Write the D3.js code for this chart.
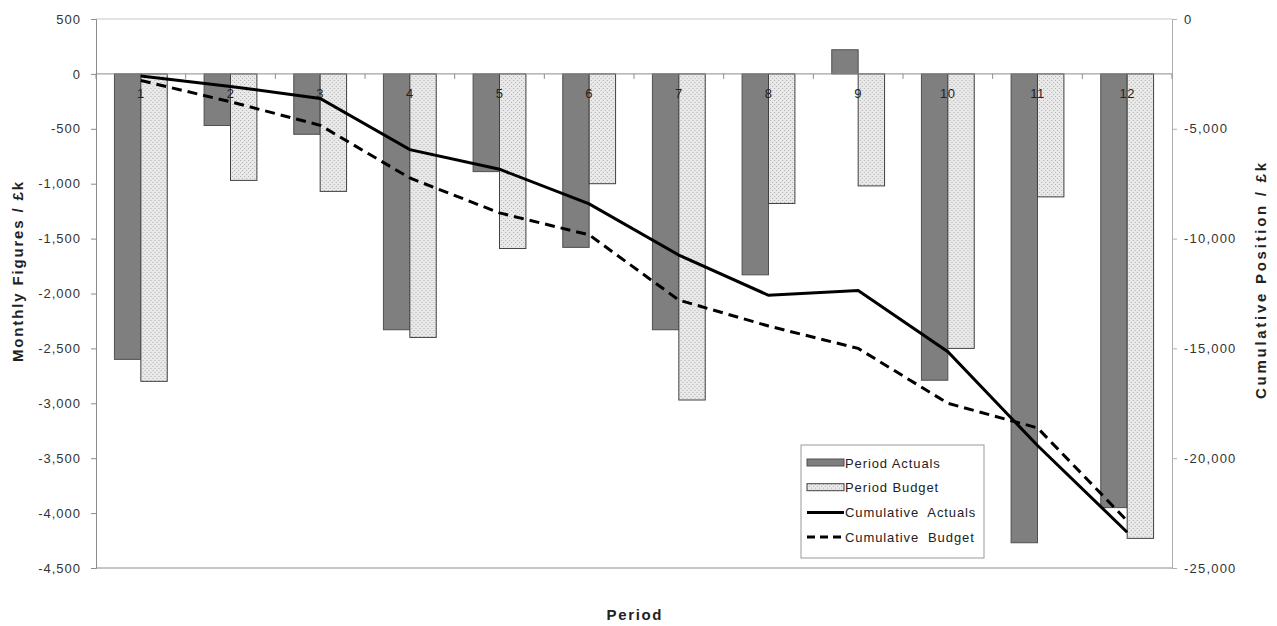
<!DOCTYPE html>
<html>
<head>
<meta charset="utf-8">
<script src="https://cdn.jsdelivr.net/npm/d3@7/dist/d3.min.js"></script>
<style>
  html, body { margin: 0; padding: 0; background: #fff; }
  svg { display: block; font-family: "Liberation Sans", Arial, sans-serif; }
</style>
</head>
<body>
<svg id="chart" width="1277" height="626"></svg>
<script>
// Periods 1..12
const periods = ["1", "2", "3", "4", "5", "6", "7", "8", "9", "10", "11", "12"];
// Monthly figures, £k
const periodActuals = [-2600, -470, -550, -2330, -890, -1580, -2330, -1830, 220, -2790, -4270, -3950];
const periodBudget  = [-2800, -970, -1070, -2400, -1590, -1000, -2970, -1180, -1020, -2500, -1120, -4230];
// Cumulative position, £k
const cumulativeActuals = [-2600, -3070, -3620, -5950, -6840, -8420, -10750, -12580, -12360, -15150, -19420, -23370];
const cumulativeBudget  = [-2800, -3770, -4840, -7240, -8830, -9830, -12800, -13980, -15000, -17500, -18620, -22850];
// Axis ticks
const leftTicks  = [500, 0, -500, -1000, -1500, -2000, -2500, -3000, -3500, -4000, -4500];
const rightTicks = [0, -5000, -10000, -15000, -20000, -25000];

const svg = d3.select("#chart");
const plot = { left: 96, right: 1172, top: 19, bottom: 568 };

const x = d3.scaleBand().domain(periods)
  .range([plot.left, plot.right])
  .paddingInner(0.411).paddingOuter(0.2055);
const xSeries = d3.scaleBand().domain(["actual", "budget"]).range([0, x.bandwidth()]);
const yLeft = d3.scaleLinear().domain([-4500, 500]).range([plot.bottom, plot.top]);
const yRight = d3.scaleLinear().domain([-25000, 0]).range([plot.bottom, plot.top]);

// Thousands separator with a plain hyphen for negatives
const fmt = d => d3.format(",")(d).replace("\u2212", "-");

// Dotted fill for budget bars
const defs = svg.append("defs");
const pat = defs.append("pattern").attr("id", "dots")
  .attr("width", 4).attr("height", 4).attr("patternUnits", "userSpaceOnUse");
pat.append("rect").attr("width", 4).attr("height", 4).attr("fill", "#e9e9e9");
pat.append("rect").attr("x", 0).attr("y", 0).attr("width", 1).attr("height", 1).attr("fill", "#b0b0b0");
pat.append("rect").attr("x", 2).attr("y", 2).attr("width", 1).attr("height", 1).attr("fill", "#b0b0b0");

const axisColor = "#8c8c8c";
const textColor = "#333";

// Plot frame: top edge and bottom edge
svg.append("line").attr("x1", plot.left).attr("x2", plot.right)
  .attr("y1", plot.top).attr("y2", plot.top).attr("stroke", "#c8c8c8");
svg.append("line").attr("x1", plot.left).attr("x2", plot.right)
  .attr("y1", plot.bottom).attr("y2", plot.bottom).attr("stroke", axisColor);

// Left axis
const gLeft = svg.append("g").attr("transform", `translate(${plot.left},0)`)
  .call(d3.axisLeft(yLeft).tickValues(leftTicks).tickSize(5).tickPadding(10)
    .tickFormat(fmt));
gLeft.select(".domain").attr("stroke", axisColor);
gLeft.selectAll(".tick line").attr("stroke", axisColor);
gLeft.selectAll(".tick text").attr("fill", textColor).attr("font-size", 13)
  .attr("letter-spacing", 1)
  .attr("font-family", "'Liberation Sans', Arial, sans-serif");

// Right axis
const gRight = svg.append("g").attr("transform", `translate(${plot.right},0)`)
  .call(d3.axisRight(yRight).tickValues(rightTicks).tickSize(5).tickPadding(7)
    .tickFormat(fmt));
gRight.select(".domain").attr("stroke", "#b0b0b0");
gRight.selectAll(".tick line").attr("stroke", "#b0b0b0");
gRight.selectAll(".tick text").attr("fill", textColor).attr("font-size", 13)
  .attr("letter-spacing", 1.2)
  .attr("font-family", "'Liberation Sans', Arial, sans-serif");

// Bars
const groups = svg.append("g").selectAll("g").data(periods).join("g")
  .attr("transform", d => `translate(${x(d)},0)`);

groups.append("rect")
  .attr("x", xSeries("actual"))
  .attr("width", xSeries.bandwidth())
  .attr("y", (d, i) => yLeft(Math.max(0, periodActuals[i])))
  .attr("height", (d, i) => Math.abs(yLeft(periodActuals[i]) - yLeft(0)))
  .attr("fill", "#7f7f7f").attr("stroke", "#505050").attr("stroke-width", 1);

groups.append("rect")
  .attr("x", xSeries("budget"))
  .attr("width", xSeries.bandwidth())
  .attr("y", (d, i) => yLeft(Math.max(0, periodBudget[i])))
  .attr("height", (d, i) => Math.abs(yLeft(periodBudget[i]) - yLeft(0)))
  .attr("fill", "url(#dots)").attr("stroke", "#404040").attr("stroke-width", 1);

// Category axis along zero line
const gCat = svg.append("g").attr("transform", `translate(0,${yLeft(0)})`);
gCat.append("line").attr("x1", plot.left).attr("x2", plot.right)
  .attr("stroke", axisColor);
const step = x.step();
const boundaries = d3.range(periods.length + 1).map(i => plot.left + i * step);
gCat.selectAll("line.tk").data(boundaries).join("line").attr("class", "tk")
  .attr("x1", d => d).attr("x2", d => d).attr("y1", 0).attr("y2", 5)
  .attr("stroke", axisColor);
gCat.selectAll("text").data(periods).join("text")
  .attr("x", d => x(d) + x.bandwidth() / 2)
  .attr("y", 24)
  .attr("text-anchor", "middle")
  .attr("font-size", 13).attr("letter-spacing", 0.5).attr("fill", "#222")
  .text(d => d);

// Cumulative lines on the right-hand scale
const cx = d => x(d) + x.bandwidth() / 2;
const lineA = d3.line().x((d, i) => cx(periods[i])).y(d => yRight(d));
svg.append("path").datum(cumulativeBudget).attr("d", lineA)
  .attr("fill", "none").attr("stroke", "#000").attr("stroke-width", 3)
  .attr("stroke-dasharray", "10,6");
svg.append("path").datum(cumulativeActuals).attr("d", lineA)
  .attr("fill", "none").attr("stroke", "#000").attr("stroke-width", 3);

// Axis titles
svg.append("text")
  .attr("transform", "translate(23,272) rotate(-90)")
  .attr("text-anchor", "middle").attr("font-size", 15).attr("font-weight", "bold")
  .attr("textLength", 180).attr("lengthAdjust", "spacing")
  .attr("fill", "#222").text("Monthly Figures / £k");
svg.append("text")
  .attr("transform", "translate(1266,281) rotate(-90)")
  .attr("text-anchor", "middle").attr("font-size", 15).attr("font-weight", "bold")
  .attr("textLength", 236).attr("lengthAdjust", "spacing")
  .attr("fill", "#222").text("Cumulative Position / £k");
svg.append("text")
  .attr("x", 634).attr("y", 620)
  .attr("text-anchor", "middle").attr("font-size", 15).attr("font-weight", "bold")
  .attr("textLength", 55).attr("lengthAdjust", "spacing")
  .attr("fill", "#222").text("Period");

// Legend
const legend = svg.append("g").attr("transform", "translate(801,445)");
legend.append("rect").attr("width", 183).attr("height", 113)
  .attr("fill", "#fff").attr("stroke", "#999");
const items = [
  { label: "Period Actuals", kind: "bar", fill: "#7f7f7f", stroke: "#505050" },
  { label: "Period Budget", kind: "bar", fill: "url(#dots)", stroke: "#404040" },
  { label: "Cumulative  Actuals", kind: "line", dash: null },
  { label: "Cumulative  Budget", kind: "line", dash: "8,5" }
];
const li = legend.selectAll("g").data(items).join("g")
  .attr("transform", (d, i) => `translate(6,${18 + i * 24.7})`);
li.filter(d => d.kind === "bar").append("rect")
  .attr("x", 0).attr("y", -4).attr("width", 37).attr("height", 7)
  .attr("fill", d => d.fill).attr("stroke", d => d.stroke);
li.filter(d => d.kind === "line").append("line")
  .attr("x1", 0).attr("x2", 37).attr("y1", 0).attr("y2", 0)
  .attr("stroke", "#000").attr("stroke-width", 3)
  .attr("stroke-dasharray", d => d.dash);
li.append("text").attr("x", 38).attr("y", 4.5)
  .attr("font-size", 13).attr("letter-spacing", 0.9).attr("fill", "#222")
  .attr("xml:space", "preserve")
  .style("white-space", "pre")
  .text(d => d.label);
</script>
</body>
</html>
